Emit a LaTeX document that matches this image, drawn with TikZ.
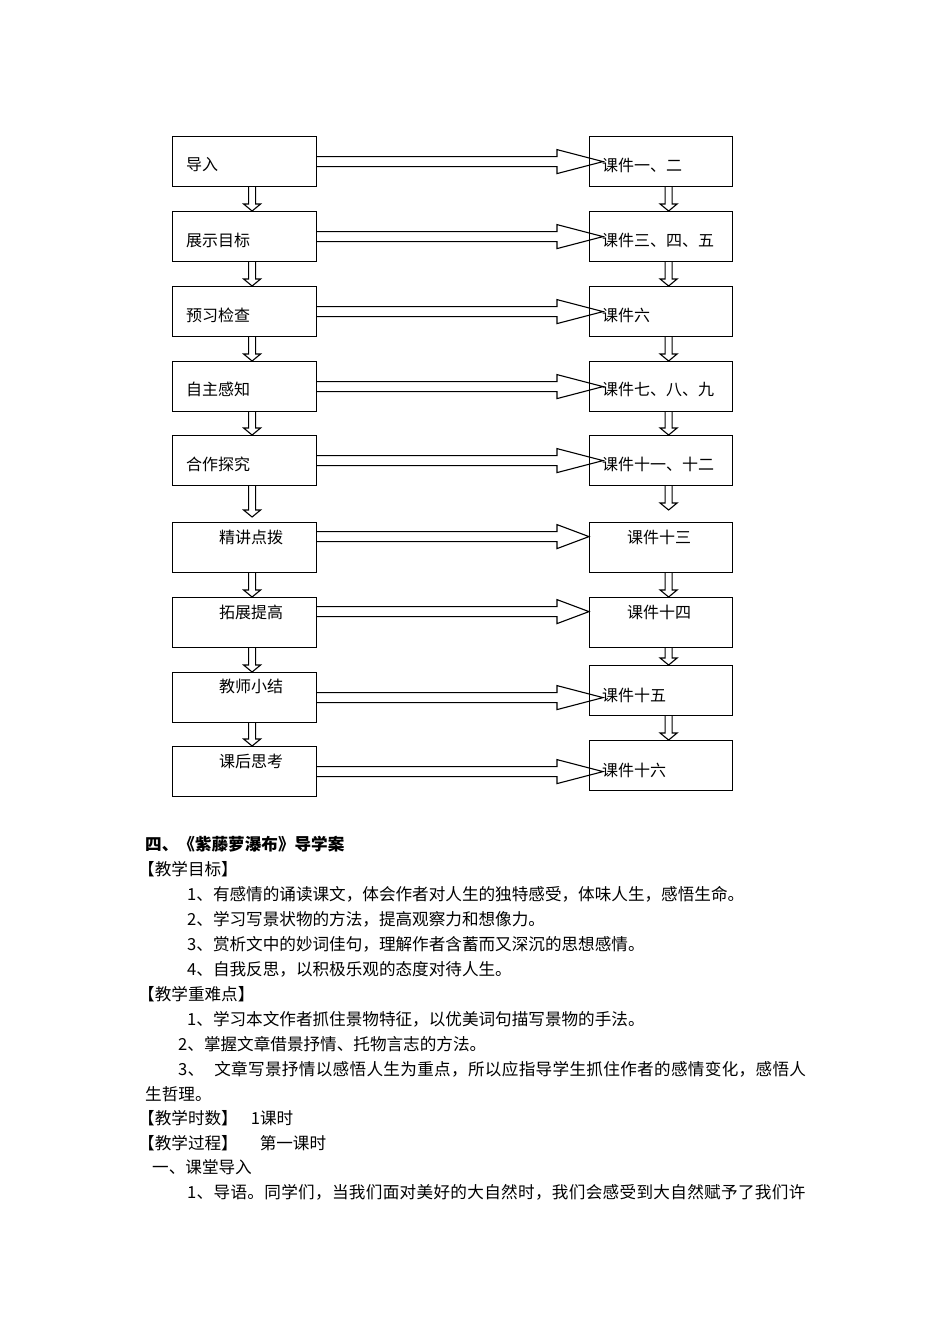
\documentclass[tikz,border=0pt]{standalone}
\usepackage{fontspec}
\setmainfont{Noto Sans CJK SC}
\usetikzlibrary{calc}

% block arrow from a left box to a right box: lift above the box centre, tip past the right box edge
\newcommand{\FlowRight}[4]{%
	\draw[ArrowStyle] ($(#1.east)+(0,-5-#3)$) -- ($(#2.west |- #1.east)+(-32,-5-#3)$) -- ($(#2.west |- #1.east)+(-32,-12-#3)$) -- ($(#2.west |- #1.east)+(#4,-#3)$) -- ($(#2.west |- #1.east)+(-32,12-#3)$) -- ($(#2.west |- #1.east)+(-32,5-#3)$) -- ($(#1.east)+(0,5-#3)$);}
% block arrow down between two boxes, gap left above the lower box
\newcommand{\FlowDown}[3]{%
	\draw[ArrowStyle] ($(#1.south)+(4,0)$) -- ($(#2.north)+(4,-7-#3)$) -- ($(#2.north)+(-1,-7-#3)$) -- ($(#2.north)+(7.5,-#3)$) -- ($(#2.north)+(16,-7-#3)$) -- ($(#2.north)+(11,-7-#3)$) -- ($(#1.south)+(11,0)$);}

\begin{document}
\begin{tikzpicture}[x = 1pt, y = -1pt, font = \fontsize{16}{20}\selectfont]
	\tikzstyle{BoxStyle} = [draw, line width = 1.2pt, inner sep = 0pt, anchor = north west, minimum height = 50pt]
	\tikzstyle{leftStyle} = [BoxStyle, minimum width = 144pt]
	\tikzstyle{rightStyle} = [BoxStyle, minimum width = 143pt]
	\tikzstyle{textStyle} = [anchor = west, inner sep = 0pt]
	\tikzstyle{bodyStyle} = [anchor = west, inner sep = 0pt, font = \fontsize{16.6}{20}\selectfont]
	\tikzstyle{fullStyle} = [bodyStyle, font = \fontsize{16.6}{20}\selectfont\addfontfeature{LetterSpace = 1.9}]
	\tikzstyle{ArrowStyle} = [line width = 1.1pt, line join = miter]
	\fill[white] (0,0) rectangle (950,1344);
	% teaching steps
	\node[leftStyle] (L1) at (172,136) {};
	\node[leftStyle] (L2) at (172,211) {};
	\node[leftStyle] (L3) at (172,286) {};
	\node[leftStyle] (L4) at (172,361) {};
	\node[leftStyle] (L5) at (172,435) {};
	\node[leftStyle] (L6) at (172,522) {};
	\node[leftStyle] (L7) at (172,597) {};
	\node[leftStyle] (L8) at (172,672) {};
	\node[leftStyle] (L9) at (172,746) {};
	\node[textStyle] (L1text) at (186,165) {导入};
	\node[textStyle] (L2text) at (186,240) {展示目标};
	\node[textStyle] (L3text) at (186,315) {预习检查};
	\node[textStyle] (L4text) at (186,389) {自主感知};
	\node[textStyle] (L5text) at (186,464) {合作探究};
	\node[textStyle] (L6text) at (219,537) {精讲点拨};
	\node[textStyle] (L7text) at (219,612) {拓展提高};
	\node[textStyle] (L8text) at (219,686) {教师小结};
	\node[textStyle] (L9text) at (219,761) {课后思考};
	% courseware
	\node[rightStyle] (R1) at (589,136) {};
	\node[rightStyle] (R2) at (589,211) {};
	\node[rightStyle] (R3) at (589,286) {};
	\node[rightStyle] (R4) at (589,361) {};
	\node[rightStyle] (R5) at (589,435) {};
	\node[rightStyle] (R6) at (589,522) {};
	\node[rightStyle] (R7) at (589,597) {};
	\node[rightStyle] (R8) at (589,665) {};
	\node[rightStyle] (R9) at (589,740) {};
	\node[textStyle] (R1text) at (602,165) {课件一、二};
	\node[textStyle] (R2text) at (602,240) {课件三、四、五};
	\node[textStyle] (R3text) at (602,315) {课件六};
	\node[textStyle] (R4text) at (602,389) {课件七、八、九};
	\node[textStyle] (R5text) at (602,464) {课件十一、十二};
	\node[textStyle] (R6text) at (627,537) {课件十三};
	\node[textStyle] (R7text) at (627,612) {课件十四};
	\node[textStyle] (R8text) at (602,695) {课件十五};
	\node[textStyle] (R9text) at (602,770) {课件十六};
	% arrows
	\FlowRight{L1}{R1}{0}{14}
	\FlowRight{L2}{R2}{0}{14}
	\FlowRight{L3}{R3}{0}{14}
	\FlowRight{L4}{R4}{0}{14}
	\FlowRight{L5}{R5}{0}{14}
	\FlowRight{L6}{R6}{11}{0}
	\FlowRight{L7}{R7}{11}{0}
	\FlowRight{L8}{R8}{0}{14}
	\FlowRight{L9}{R9}{0}{14}
	\FlowDown{L1}{L2}{0}
	\FlowDown{L2}{L3}{0}
	\FlowDown{L3}{L4}{0}
	\FlowDown{L4}{L5}{0}
	\FlowDown{L5}{L6}{5}
	\FlowDown{L6}{L7}{0}
	\FlowDown{L7}{L8}{0}
	\FlowDown{L8}{L9}{0}
	\FlowDown{R1}{R2}{0}
	\FlowDown{R2}{R3}{0}
	\FlowDown{R3}{R4}{0}
	\FlowDown{R4}{R5}{0}
	\FlowDown{R5}{R6}{12}
	\FlowDown{R6}{R7}{0}
	\FlowDown{R7}{R8}{0}
	\FlowDown{R8}{R9}{0}
	% text below
	\node[bodyStyle, font = \fontsize{16.6}{20}\selectfont\bfseries] (head) at (145,844) {四、《紫藤萝瀑布》导学案};
	\node[bodyStyle] (aim) at (138,869) {【教学目标】};
	\node[bodyStyle] (aim1) at (187,894) {1、有感情的诵读课文，体会作者对人生的独特感受，体味人生，感悟生命。};
	\node[bodyStyle] (aim2) at (187,919) {2、学习写景状物的方法，提高观察力和想像力。};
	\node[bodyStyle] (aim3) at (187,944) {3、赏析文中的妙词佳句，理解作者含蓄而又深沉的思想感情。};
	\node[bodyStyle] (aim4) at (187,969) {4、自我反思，以积极乐观的态度对待人生。};
	\node[bodyStyle] (key) at (138,994) {【教学重难点】};
	\node[bodyStyle] (key1) at (187,1019) {1、学习本文作者抓住景物特征，以优美词句描写景物的手法。};
	\node[bodyStyle] (key2) at (178,1044) {2、掌握文章借景抒情、托物言志的方法。};
	\node[fullStyle] (key3) at (178,1069) {3、\hspace{10pt}文章写景抒情以感悟人生为重点，所以应指导学生抓住作者的感情变化，感悟人};
	\node[bodyStyle] (key3b) at (145,1094) {生哲理。};
	\node[bodyStyle] (hours) at (138,1118) {【教学时数】\hspace{13pt}1课时};
	\node[bodyStyle] (steps) at (138,1143) {【教学过程】\hspace{22pt}第一课时};
	\node[bodyStyle] (part1) at (152,1167) {一、课堂导入};
	\node[fullStyle] (part1a) at (187,1192) {1、导语。同学们，当我们面对美好的大自然时，我们会感受到大自然赋予了我们许};
\end{tikzpicture}
\end{document}
